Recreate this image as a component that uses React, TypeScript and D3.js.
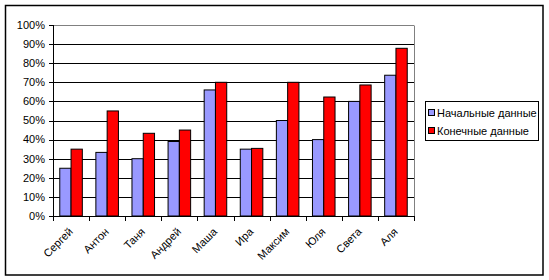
import React from "react";
import * as d3 from "d3";

const categories = ["Сергей", "Антон", "Таня", "Андрей", "Маша", "Ира", "Максим", "Юля", "Света", "Аля"];
const initialValues = [0.25, 0.333, 0.30, 0.39, 0.66, 0.35, 0.50, 0.40, 0.60, 0.737];
const finalValues = [0.35, 0.55, 0.433, 0.45, 0.70, 0.354, 0.70, 0.623, 0.686, 0.878];
const seriesNames = ["Начальные данные", "Конечные данные"];
const seriesColors = ["#9999FF", "#FF0000"];
const yTicks = [0, 0.1, 0.2, 0.3, 0.4, 0.5, 0.6, 0.7, 0.8, 0.9, 1.0];

export default function App() {
  const W = 549, H = 280;
  const left = 53, right = 414, top = 25, bottom = 216;
  const x = d3.scaleBand<string>().domain(categories).range([left, right]).padding(0);
  const inner = d3.scaleBand<number>().domain([0, 1]).range([0, x.bandwidth()]).paddingInner(0).paddingOuter(0.6);
  const y = d3.scaleLinear().domain([0, 1]).range([bottom, top]);
  const fmt = d3.format(".0%");
  const series = [initialValues, finalValues];
  const font = "Arial, 'Liberation Sans', sans-serif";

  return (
    <svg width={W} height={H} style={{ position: "absolute", left: 0, top: 0 }} fontFamily={font}>
      <rect x={0} y={0} width={W} height={H} fill="#fff" />
      <rect x={5.5} y={5.5} width={537.5} height={269.5} fill="#fff" stroke="#000" strokeWidth={1.5} />
      {yTicks.map((t) => (
        <line key={t} x1={left} x2={right} y1={Math.round(y(t)) + 0.5} y2={Math.round(y(t)) + 0.5}
          stroke={t === 1 ? "#808080" : "#000"} strokeWidth={1} />
      ))}
      <line x1={right + 0.5} x2={right + 0.5} y1={top + 0.5} y2={bottom + 0.5} stroke="#808080" />
      {series.map((vals, si) =>
        categories.map((c, ci) => {
          const bx = (x(c) as number) + (inner(si) as number);
          const by = y(vals[ci]);
          return (
            <rect key={`${si}-${ci}`} x={bx} y={by} width={inner.bandwidth()} height={bottom - by}
              fill={seriesColors[si]} stroke="#000" strokeWidth={1} />
          );
        })
      )}
      <line x1={left + 0.5} x2={left + 0.5} y1={top} y2={bottom + 1} stroke="#000" />
      {yTicks.map((t) => (
        <g key={"yt" + t}>
          <line x1={left - 4} x2={left} y1={Math.round(y(t)) + 0.5} y2={Math.round(y(t)) + 0.5} stroke="#000" />
          <text x={45} y={y(t)} dy="0.35em" textAnchor="end" fontSize={11} fill="#000">{fmt(t)}</text>
        </g>
      ))}
      <line x1={left} x2={right + 1} y1={bottom + 0.5} y2={bottom + 0.5} stroke="#000" />
      {categories.map((c) => (
        <line key={"xt" + c} x1={Math.round(x(c) as number) + 0.5} x2={Math.round(x(c) as number) + 0.5}
          y1={bottom} y2={bottom + 5} stroke="#000" />
      ))}
      <line x1={right + 0.5} x2={right + 0.5} y1={bottom} y2={bottom + 5} stroke="#000" />
      {categories.map((c) => {
        const cx = (x(c) as number) + x.bandwidth() / 2;
        return (
          <text key={"xl" + c} transform={`translate(${cx - 3},${bottom + 11}) rotate(-45)`}
            textAnchor="end" dy="0.7em" fontSize={11} fill="#000">{c}</text>
        );
      })}
      <rect x={425.5} y={101.5} width={113} height={39} fill="#fff" stroke="#000" strokeWidth={1} />
      {seriesNames.map((n, i) => (
        <g key={n}>
          <rect x={428.5} y={109.5 + i * 18} width={6} height={6} fill={seriesColors[i]} stroke="#000" />
          <text x={437} y={113 + i * 18} dy="0.35em" fontSize={11} fill="#000">{n}</text>
        </g>
      ))}
    </svg>
  );
}
